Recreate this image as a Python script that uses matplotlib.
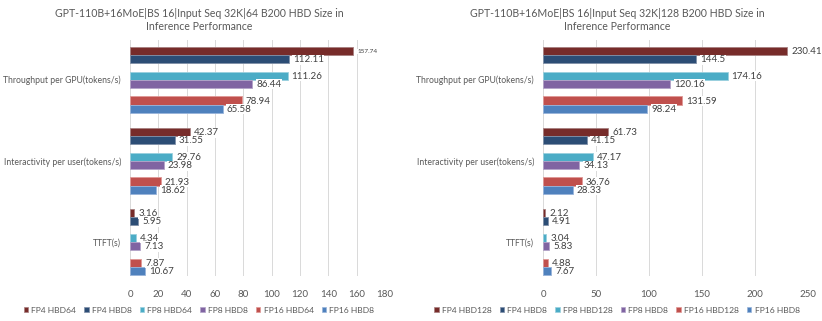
import numpy as np
import matplotlib
matplotlib.use("Agg")
import matplotlib.pyplot as plt
from matplotlib.patches import Patch

plt.rcParams['font.family'] = ['Lato', 'DejaVu Sans']

# data
categories = ["Throughput per GPU(tokens/s)", "Interactivity per user(tokens/s)", "TTFT(s)"]

left_title = "GPT-110B+16MoE|BS 16|Input Seq 32K|64 B200 HBD Size in\nInference Performance"
left_series = ["FP4 HBD64", "FP4 HBD8", "FP8 HBD64", "FP8 HBD8", "FP16 HBD64", "FP16 HBD8"]
left_fp4_hbd64 = [157.74, 42.37, 3.16]
left_fp4_hbd8 = [112.11, 31.55, 5.95]
left_fp8_hbd64 = [111.26, 29.76, 4.34]
left_fp8_hbd8 = [86.44, 23.98, 7.13]
left_fp16_hbd64 = [78.94, 21.93, 7.87]
left_fp16_hbd8 = [65.58, 18.62, 10.67]
left_ticks = [0, 20, 40, 60, 80, 100, 120, 140, 160, 180]

right_title = "GPT-110B+16MoE|BS 16|Input Seq 32K|128 B200 HBD Size in\nInference Performance"
right_series = ["FP4 HBD128", "FP4 HBD8", "FP8 HBD128", "FP8 HBD8", "FP16 HBD128", "FP16 HBD8"]
right_fp4_hbd128 = [230.41, 61.73, 2.12]
right_fp4_hbd8 = [144.5, 41.15, 4.91]
right_fp8_hbd128 = [174.16, 47.17, 3.04]
right_fp8_hbd8 = [120.16, 34.13, 5.83]
right_fp16_hbd128 = [131.59, 36.76, 4.88]
right_fp16_hbd8 = [98.24, 28.33, 7.67]
right_ticks = [0, 50, 100, 150, 200, 250]

colors = ["#772C2A", "#2C4D75", "#4BACC6", "#8064A2", "#C0504D", "#4F81BD"]
edges = ["#A88080", "#8090A8", "#9AD0DE", "#B3A3C8", "#E09896", "#98B4DA"]
TXT = "#595959"

# bar layout in units of one bar height
PAIR_GAP = 1.05
GROUP_GAP = 1.86
GROUP_LEN = 6 + 2 * PAIR_GAP


def bar_positions():
    # y centre of every bar, top to bottom, per series
    pos = []
    for s in range(6):
        pair, k = divmod(s, 2)
        row = []
        for g in range(3):
            top = g * (GROUP_LEN + GROUP_GAP) + pair * (2 + PAIR_GAP) + k
            row.append(top + 0.5)
        pos.append(row)
    return pos


def draw(ax, series_vals, labels, ticks, title, cx, shrink_max=False):
    pos = bar_positions()
    xmax = ticks[-1]
    vmax = max(max(v) for v in series_vals)
    for s, vals in enumerate(series_vals):
        ax.barh(pos[s], vals, height=1.0, color=colors[s], edgecolor=edges[s],
                linewidth=0.6, zorder=3)
        for y, v in zip(pos[s], vals):
            # the left chart squeezes its longest label
            fs = 4.6 if (shrink_max and v == vmax) else 7.0
            ax.annotate(f"{v:g}", (v, y), xytext=(2.8, -0.5), textcoords="offset points",
                        va="center", ha="left", fontsize=fs, color="#404040", zorder=4,
                        bbox=dict(boxstyle="square,pad=0.05", fc="white", ec="none"))
    total = 3 * GROUP_LEN + 2 * GROUP_GAP
    ax.set_ylim(total + 0.15, -0.83)
    centers = [g * (GROUP_LEN + GROUP_GAP) + GROUP_LEN / 2 for g in range(3)]
    ax.set_yticks(centers)
    ax.set_yticklabels(categories)
    ax.set_xlim(ticks[0], xmax)
    ax.set_xticks(ticks)
    ax.tick_params(axis="both", length=0, labelsize=6.25, colors=TXT)
    ax.tick_params(axis="x", labelsize=7.0, pad=10)
    ax.tick_params(axis="y", pad=6.5)
    ax.grid(axis="x", color="#D9D9D9", linewidth=0.7, zorder=0)
    for sp in ax.spines.values():
        sp.set_visible(False)

    # chart title centred over the panel
    fig.text(cx, 0.976, title, ha="center", va="top",
             fontsize=7.6, color=TXT, linespacing=1.3)
    handles = [Patch(facecolor=colors[i], edgecolor=edges[i], linewidth=0.5) for i in range(6)]
    fig.legend(handles, labels, loc="center", bbox_to_anchor=(cx, 0.034),
               ncol=6, frameon=False, fontsize=6.1, handlelength=0.5, handleheight=0.5,
               handletextpad=0.4, columnspacing=0.95, labelcolor=TXT)


fig = plt.figure(figsize=(8.22, 3.21), dpi=100)
W, H = 822, 321
ax1 = fig.add_axes([130 / W, 1 - 276 / H, 255 / W, 236 / H])
ax2 = fig.add_axes([543 / W, 1 - 276 / H, 265 / W, 236 / H])

draw(ax1, [left_fp4_hbd64, left_fp4_hbd8, left_fp8_hbd64, left_fp8_hbd8, left_fp16_hbd64, left_fp16_hbd8],
     left_series, left_ticks, left_title, 199 / W, shrink_max=True)
draw(ax2, [right_fp4_hbd128, right_fp4_hbd8, right_fp8_hbd128, right_fp8_hbd8, right_fp16_hbd128, right_fp16_hbd8],
     right_series, right_ticks, right_title, 617 / W)

fig.savefig("out.png", dpi=100)
